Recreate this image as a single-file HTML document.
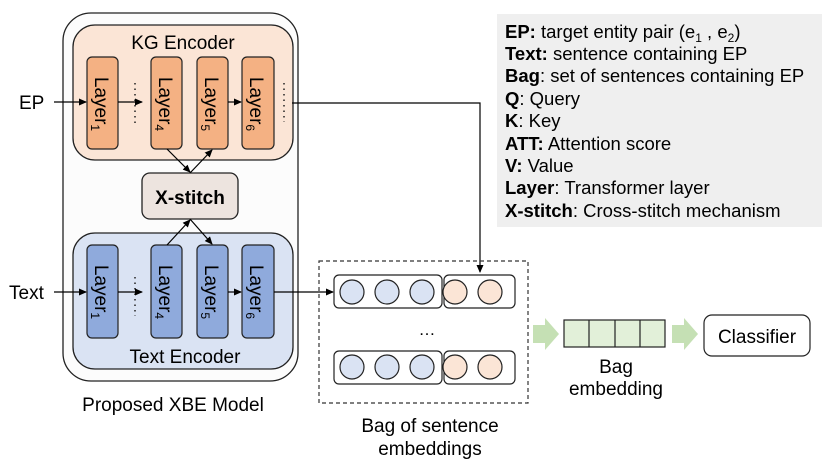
<!DOCTYPE html>
<html><head><meta charset="utf-8"><style>
body{margin:0;background:#fff;}
svg{display:block;font-family:"Liberation Sans",Arial,sans-serif;}
</style></head><body>
<svg width="830" height="460" viewBox="0 0 830 460" xmlns="http://www.w3.org/2000/svg">
<defs>
<marker id="a" markerWidth="8" markerHeight="8" refX="7" refY="4" orient="auto" markerUnits="userSpaceOnUse"><path d="M0,0.5 L8,4 L0,7.5z" fill="#000"/></marker>
</defs>
<rect x="63" y="13" width="235" height="368" rx="28" fill="#fcfcfc" stroke="#222" stroke-width="1.3"/>
<rect x="73" y="25" width="220" height="135" rx="22" fill="#fbe5d6" stroke="#222" stroke-width="1.3"/>
<text x="183" y="49" font-size="19" text-anchor="middle">KG Encoder</text>
<rect x="73" y="233" width="220" height="136" rx="22" fill="#dae3f3" stroke="#222" stroke-width="1.3"/>
<text x="185" y="363" font-size="19" text-anchor="middle">Text Encoder</text>
<text x="173" y="411" font-size="19" text-anchor="middle">Proposed XBE Model</text>
<g stroke="#222" stroke-width="1.2" fill="#f4b183">
<rect x="87" y="57" width="31" height="92" rx="5"/>
<rect x="151" y="57" width="31" height="92" rx="5"/>
<rect x="197" y="57" width="31" height="92" rx="5"/>
<rect x="242" y="57" width="32" height="92" rx="5"/>
</g>
<g stroke="#222" stroke-width="1.2" fill="#8faadc">
<rect x="87" y="245" width="31" height="93" rx="5"/>
<rect x="151" y="245" width="31" height="93" rx="5"/>
<rect x="197" y="245" width="31" height="93" rx="5"/>
<rect x="242" y="245" width="32" height="93" rx="5"/>
</g>
<g font-size="19">
<text transform="translate(95,104) rotate(90)" text-anchor="middle">Layer<tspan font-size="12" dy="4">1</tspan></text>
<text transform="translate(159,104) rotate(90)" text-anchor="middle">Layer<tspan font-size="12" dy="4">4</tspan></text>
<text transform="translate(205,104) rotate(90)" text-anchor="middle">Layer<tspan font-size="12" dy="4">5</tspan></text>
<text transform="translate(250,104) rotate(90)" text-anchor="middle">Layer<tspan font-size="12" dy="4">6</tspan></text>
<text transform="translate(95,292) rotate(90)" text-anchor="middle">Layer<tspan font-size="12" dy="4">1</tspan></text>
<text transform="translate(159,292) rotate(90)" text-anchor="middle">Layer<tspan font-size="12" dy="4">4</tspan></text>
<text transform="translate(205,292) rotate(90)" text-anchor="middle">Layer<tspan font-size="12" dy="4">5</tspan></text>
<text transform="translate(250,292) rotate(90)" text-anchor="middle">Layer<tspan font-size="12" dy="4">6</tspan></text>
</g>
<g stroke="#222" stroke-width="1.5" stroke-dasharray="1.5,4">
<line x1="135" y1="83" x2="135" y2="126"/>
<line x1="284" y1="83" x2="284" y2="122"/>
<line x1="135" y1="277" x2="135" y2="316"/>
</g>
<rect x="142" y="173" width="96" height="46" rx="8" fill="#ede4df" stroke="#222" stroke-width="1.3"/>
<text x="190" y="204" font-size="19" font-weight="bold" text-anchor="middle">X-stitch</text>
<g stroke="#000" stroke-width="1.2" fill="none">
<line x1="54" y1="102" x2="86" y2="102" marker-end="url(#a)"/>
<line x1="118" y1="102" x2="142" y2="102" marker-end="url(#a)"/>
<line x1="228" y1="102" x2="241" y2="102" marker-end="url(#a)"/>
<path d="M292,103 H480 V272" marker-end="url(#a)"/>
<line x1="54" y1="292" x2="86" y2="292" marker-end="url(#a)"/>
<line x1="118" y1="292" x2="142" y2="292" marker-end="url(#a)"/>
<line x1="228" y1="292" x2="241" y2="292" marker-end="url(#a)"/>
<line x1="274" y1="292" x2="333" y2="292" marker-end="url(#a)"/>
<line x1="167" y1="149" x2="190" y2="172" marker-end="url(#a)"/>
<line x1="190" y1="173" x2="212" y2="150" marker-end="url(#a)"/>
<line x1="167" y1="245" x2="190" y2="220" marker-end="url(#a)"/>
<line x1="190" y1="219" x2="212" y2="244" marker-end="url(#a)"/>
</g>
<text x="19" y="109" font-size="19">EP</text>
<text x="9" y="299" font-size="19">Text</text>
<rect x="319" y="261" width="209" height="142" fill="none" stroke="#333" stroke-width="1.2" stroke-dasharray="4,3"/>
<g stroke="#222" stroke-width="1.2">
<rect x="334" y="275" width="108" height="33" rx="5" fill="#fff"/>
<rect x="444" y="275" width="71" height="33" rx="5" fill="#fff"/>
<rect x="334" y="351" width="108" height="33" rx="5" fill="#fff"/>
<rect x="444" y="351" width="71" height="33" rx="5" fill="#fff"/>
<g fill="#dae3f3">
<circle cx="352" cy="292" r="12"/><circle cx="387" cy="292" r="12"/><circle cx="422" cy="292" r="12"/>
<circle cx="352" cy="367" r="12"/><circle cx="387" cy="367" r="12"/><circle cx="422" cy="367" r="12"/>
</g>
<g fill="#fbe5d6">
<circle cx="455" cy="292" r="12"/><circle cx="490" cy="292" r="12"/>
<circle cx="455" cy="367" r="12"/><circle cx="490" cy="367" r="12"/>
</g>
</g>
<text x="427" y="335" font-size="17" text-anchor="middle">…</text>
<text x="430" y="432" font-size="19" text-anchor="middle">Bag of sentence</text>
<text x="430" y="455" font-size="19" text-anchor="middle">embeddings</text>
<path d="M533,325 H545 V318 L559,334 L545,350 V343 H533z" fill="#c5e0b4"/>
<path d="M672,325 H684 V318 L698,334 L684,350 V343 H672z" fill="#c5e0b4"/>
<g stroke="#222" stroke-width="1.2" fill="#e2f0d9">
<rect x="564" y="320" width="101" height="27"/>
<line x1="589" y1="320" x2="589" y2="347"/>
<line x1="615" y1="320" x2="615" y2="347"/>
<line x1="640" y1="320" x2="640" y2="347"/>
</g>
<text x="616" y="373" font-size="19" text-anchor="middle">Bag</text>
<text x="616" y="395" font-size="19" text-anchor="middle">embedding</text>
<rect x="704" y="315" width="106" height="41" rx="8" fill="#fff" stroke="#222" stroke-width="1.2"/>
<text x="757" y="343" font-size="19" text-anchor="middle">Classifier</text>
<rect x="497" y="14" width="325" height="213" fill="#efefef"/>
<g font-size="18.5">
<text x="505" y="38"><tspan font-weight="bold">EP:</tspan> target entity pair (e<tspan font-size="12" dy="4">1</tspan><tspan dy="-4"> , e</tspan><tspan font-size="12" dy="4">2</tspan><tspan dy="-4">)</tspan></text>
<text x="505" y="60"><tspan font-weight="bold">Text:</tspan> sentence containing EP</text>
<text x="505" y="82"><tspan font-weight="bold">Bag</tspan>: set of sentences containing EP</text>
<text x="505" y="105"><tspan font-weight="bold">Q</tspan>: Query</text>
<text x="505" y="127"><tspan font-weight="bold">K</tspan>: Key</text>
<text x="505" y="150"><tspan font-weight="bold">ATT:</tspan> Attention score</text>
<text x="505" y="172"><tspan font-weight="bold">V:</tspan> Value</text>
<text x="505" y="194"><tspan font-weight="bold">Layer</tspan>: Transformer layer</text>
<text x="505" y="217"><tspan font-weight="bold">X-stitch</tspan>: Cross-stitch mechanism</text>
</g>
</svg>
</body></html>
